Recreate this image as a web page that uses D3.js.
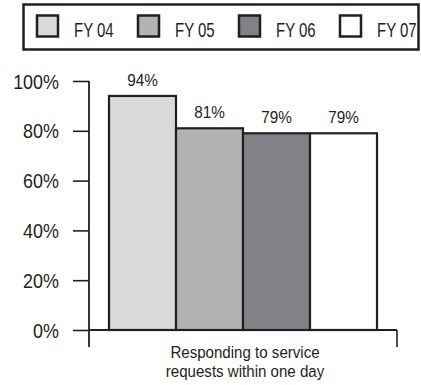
<!DOCTYPE html>
<html>
<head>
<meta charset="utf-8">
<script src="https://cdn.jsdelivr.net/npm/d3@7"></script>
<style>
  html, body { margin: 0; padding: 0; background: #fff; }
  svg text { font-family: "Liberation Sans", Arial, sans-serif; fill: #231f20; }
</style>
</head>
<body>
<svg id="chart" width="421" height="385"></svg>
<script>
// Fiscal years shown as bars, with their fill tones
const years = ["FY 04", "FY 05", "FY 06", "FY 07"];
const fills = ["#d8d9db", "#b1b3b5", "#808285", "#ffffff"];
// Share of service requests answered within one day (%)
const values = [94, 81, 79, 79];
const categoryLines = ["Responding to service", "requests within one day"];
const yTicks = [0, 20, 40, 60, 80, 100];

const ink = "#231f20";
const svg = d3.select("#chart");

// Place a text at (x, y) with a horizontal squeeze to get a condensed face
function condensedText(parent, x, y, str, size, sx, anchor) {
  return parent.append("text")
    .attr("transform", `translate(${x},${y}) scale(${sx},1)`)
    .attr("font-size", size)
    .attr("text-anchor", anchor || "start")
    .text(str);
}

// ----- scales -----
const y = d3.scaleLinear().domain([0, 100]).range([330, 81]);
const x = d3.scaleBand().domain(years).range([109, 377]).padding(0);

// ----- legend -----
const legend = svg.append("g");
legend.append("rect")
  .attr("x", 23.5).attr("y", 4.5).attr("width", 395).attr("height", 45)
  .attr("fill", "#fff").attr("stroke", ink).attr("stroke-width", 2.5);

const legendX = d3.scalePoint().domain(years).range([37, 340]);
years.forEach((d, i) => {
  const g = legend.append("g").attr("transform", `translate(${legendX(d)},0)`);
  g.append("rect")
    .attr("x", 0).attr("y", 15.5).attr("width", 21).attr("height", 21)
    .attr("fill", fills[i]).attr("stroke", ink).attr("stroke-width", 2.5);
  condensedText(g, 37, 36.5, d, 20, 0.75);
});

// ----- y axis -----
const yAxis = d3.axisLeft(y)
  .tickValues(yTicks)
  .tickFormat(d => d + "%")
  .tickSize(16)
  .tickPadding(14);
const yg = svg.append("g").attr("transform", "translate(89,0)").call(yAxis);
yg.select(".domain").remove();
yg.selectAll(".tick line").attr("stroke", ink).attr("stroke-width", 1.6);
yg.selectAll(".tick text")
  .attr("font-size", 19.5)
  .attr("font-family", null)
  .attr("fill", ink)
  .attr("x", 0)
  .attr("dy", "0.36em")
  .attr("transform", "translate(-30,0) scale(0.92,1)");
svg.append("line")
  .attr("x1", 89).attr("x2", 89).attr("y1", y(100)).attr("y2", 347)
  .attr("stroke", ink).attr("stroke-width", 1.8);

// ----- bars -----
svg.append("g").selectAll("rect").data(values).join("rect")
  .attr("x", (d, i) => x(years[i]))
  .attr("y", d => y(d))
  .attr("width", x.bandwidth())
  .attr("height", d => y(0) - y(d))
  .attr("fill", (d, i) => fills[i])
  .attr("stroke", ink).attr("stroke-width", 2.2);

// value labels above bars
const valueLayer = svg.append("g");
values.forEach((d, i) => {
  condensedText(valueLayer, x(years[i]) + x.bandwidth() / 2, y(d) - 10,
    d + "%", 17, 0.9, "middle");
});

// ----- x axis -----
svg.append("line")
  .attr("x1", 89).attr("x2", 397).attr("y1", y(0)).attr("y2", y(0))
  .attr("stroke", ink).attr("stroke-width", 2.2);
svg.append("line")
  .attr("x1", 397).attr("x2", 397).attr("y1", y(0)).attr("y2", 347)
  .attr("stroke", ink).attr("stroke-width", 1.6);

const catLayer = svg.append("g");
categoryLines.forEach((line, i) => {
  condensedText(catLayer, 245, 358 + i * 19, line, 16.5, 0.915, "middle");
});
</script>
</body>
</html>
